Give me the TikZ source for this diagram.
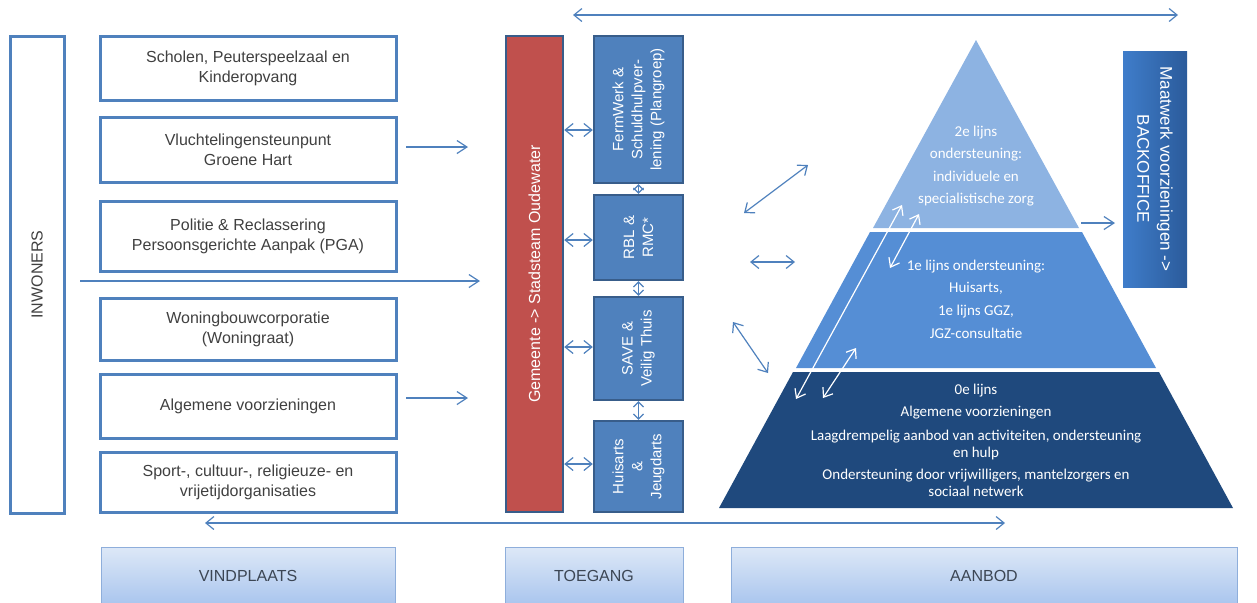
\documentclass[tikz,border=0pt]{standalone}
\usepackage{fontspec}
\setmainfont{Liberation Sans}
\newfontfamily\pyrfont{Carlito}
\usetikzlibrary{positioning,arrows.meta,calc}

\definecolor{ofblue}{HTML}{4F81BD}
\definecolor{ofdark}{HTML}{385D8A}
\definecolor{ofred}{HTML}{C0504D}
\definecolor{pyrtop}{HTML}{8DB3E2}
\definecolor{pyrmid}{HTML}{558ED5}
\definecolor{pyrbot}{HTML}{1F497D}
\definecolor{txtgray}{HTML}{404040}
\definecolor{hdrtop}{HTML}{DDE8F7}
\definecolor{hdrbot}{HTML}{A9C5EE}
\definecolor{hdrline}{HTML}{8EAEDB}
\definecolor{hdrtext}{HTML}{3C4654}
\definecolor{bofftop}{HTML}{3F7DCA}
\definecolor{boffbot}{HTML}{2B5B9B}

\begin{document}
\begin{tikzpicture}[
    x=0.5pt, y=-0.5pt,
    font=\fontsize{8}{10}\selectfont,
    vind/.style   ={draw=ofblue, line width=1.5pt, align=center, minimum width=148pt, inner sep=2pt, text=txtgray},
    inw/.style    ={draw=ofblue, line width=1.5pt, rotate=90, minimum width=238.5pt, minimum height=27pt, text=txtgray},
    gem/.style    ={draw=ofdark, line width=1.2pt, fill=ofred, rotate=90, minimum width=238pt, minimum height=28.5pt, text=white},
    stack/.style  ={draw=ofdark, line width=1.2pt, fill=ofblue, rotate=90, align=center, minimum height=44.5pt, inner sep=1pt, text=white, font=\fontsize{7.5}{9.5}\selectfont},
    boff/.style   ={draw=none, left color=bofftop, right color=boffbot, rotate=-90, align=center, minimum width=118pt, minimum height=32pt, text=white, font=\fontsize{8.5}{11.5}\selectfont},
    hdr/.style    ={draw=hdrline, line width=0.5pt, top color=hdrtop, bottom color=hdrbot, minimum height=29pt, text=hdrtext},
    pyrtext/.style={align=center, text=white, inner sep=0pt},
    arr/.style    ={-{Straight Barb[length=5pt,width=6.5pt]}, line width=0.6pt, ofblue},
    dbl/.style    ={{Straight Barb[length=4pt,width=6.5pt]}-{Straight Barb[length=4pt,width=6.5pt]}, line width=0.6pt, ofblue},
    tiny/.style   ={{Straight Barb[length=2.5pt,width=5pt]}-{Straight Barb[length=2.5pt,width=5pt]}, line width=0.6pt, ofblue},
    wdbl/.style   ={{Straight Barb[length=4pt,width=6pt]}-{Straight Barb[length=4pt,width=6pt]}, line width=0.6pt, white},
  ]
  \useasboundingbox (0,0) rectangle (1257,602);
  % vindplaats column
  \node[inw] (inwoners) at (37,274.5) {INWONERS};
  \node[vind, minimum height=32pt]   (scholen)  at (248,68)    {Scholen, Peuterspeelzaal en\\Kinderopvang};
  \node[vind, minimum height=32.5pt] (vlucht)   at (248,149.5) {Vluchtelingensteunpunt\\Groene Hart};
  \node[vind, minimum height=35pt]   (politie)  at (248,236)   {Politie \& Reclassering\\Persoonsgerichte Aanpak (PGA)};
  \node[vind, minimum height=31pt]   (woning)   at (248,329)   {Woningbouwcorporatie\\(Woningraat)};
  \node[vind, minimum height=32pt]   (algemeen) at (248,406)   {Algemene voorzieningen};
  \node[vind, minimum height=30pt]   (sport)    at (248,482)   {Sport-, cultuur-, religieuze- en\\vrijetijdorganisaties};
  % toegang column
  \node[gem] (gemeente) at (534.5,274) {Gemeente -> Stadsteam Oudewater};
  \node[stack, minimum width=73.5pt] (fermwerk) at (638.5,109.5) {FermWerk \&\\Schuldhulpver-\\lening (Plangroep)};
  \node[stack, minimum width=42.5pt] (rbl)      at (638.5,237.5) {RBL \&\\RMC*};
  \node[stack, minimum width=51.5pt] (save)     at (638.5,348.5) {SAVE \&\\Veilig Thuis};
  \node[stack, minimum width=45.5pt] (huisarts) at (638.5,466.5) {Huisarts\\\&\\Jeugdarts};
  % aanbod: pyramid in three layers
  \fill[pyrtop] (976,40) -- (1079,228) -- (873,228) -- cycle;
  \fill[pyrmid] (870,232) -- (1082,232) -- (1156,368) -- (796,368) -- cycle;
  \fill[pyrbot] (793,372) -- (1159,372) -- (1233,508) -- (719,508) -- cycle;
  \node[pyrtext, font=\pyrfont\fontsize{7.5}{11.3}\selectfont] (lijn2) at (976,166)
    {2e lijns\\ondersteuning:\\individuele en\\specialistische zorg};
  \node[pyrtext, font=\pyrfont\fontsize{7.5}{11.3}\selectfont] (lijn1) at (976,299)
    {1e lijns ondersteuning:\\Huisarts,\\1e lijns GGZ,\\JGZ-consultatie};
  \node[pyrtext, font=\pyrfont\fontsize{7.5}{8.5}\selectfont] (lijn0) at (976,440)
    {0e lijns\\[2.5pt]Algemene voorzieningen\\[3.5pt]Laagdrempelig aanbod van activiteiten, ondersteuning\\en hulp\\[2.5pt]Ondersteuning door vrijwilligers, mantelzorgers en\\sociaal netwerk};
  \node[boff] (backoffice) at (1155,169) {Maatwerk voorzieningen ->\\BACKOFFICE};
  % column headers
  \node[hdr, minimum width=147pt] (vindplaats) at (248,576) {VINDPLAATS};
  \node[hdr, minimum width=89pt]  (toegang)    at (594,576) {TOEGANG};
  \node[hdr, minimum width=253pt] (aanbod)     at (984,576) {AANBOD};
  % free ends of the connectors
  \coordinate (top-l) at (573,15);   \coordinate (top-r) at (1178,15);
  \coordinate (bot-l) at (205,523);  \coordinate (bot-r) at (1005,523);
  \coordinate (inw-a) at (80,281);   \coordinate (inw-b) at (480,281);
  \coordinate (vl-a)  at (406,147);  \coordinate (vl-b)  at (468,147);
  \coordinate (av-a)  at (406,398);  \coordinate (av-b)  at (468,398);
  \coordinate (b1-a)  at (744,213);  \coordinate (b1-b)  at (808,165);
  \coordinate (b2-a)  at (750,262);  \coordinate (b2-b)  at (795,262);
  \coordinate (b3-a)  at (733,322);  \coordinate (b3-b)  at (768,373);
  \coordinate (w1-a)  at (796,399);  \coordinate (w1-b)  at (902,205);
  \coordinate (w2-a)  at (890,268);  \coordinate (w2-b)  at (919,214);
  \coordinate (w3-a)  at (823,398);  \coordinate (w3-b)  at (856,348);
  \coordinate (bo-a)  at (1081,223); \coordinate (bo-b)  at (1115,223);
  % long arrows
  \draw[dbl] (top-l) -- (top-r);
  \draw[dbl] (bot-l) -- (bot-r);
  \draw[arr] (inw-a) -- (inw-b);
  \draw[arr] (vl-a) -- (vl-b);
  \draw[arr] (av-a) -- (av-b);
  % stadsteam to the four partners
  \draw[dbl] (gemeente.south |- 0,130) -- (fermwerk.north |- 0,130);
  \draw[dbl] (gemeente.south |- 0,240) -- (rbl.north |- 0,240);
  \draw[dbl] (gemeente.south |- 0,347) -- (save.north |- 0,347);
  \draw[dbl] (gemeente.south |- 0,464) -- (huisarts.north |- 0,464);
  \draw[tiny] (fermwerk.west) -- (rbl.east);
  \draw[tiny] (rbl.west) -- (save.east);
  \draw[tiny] (save.west) -- (huisarts.east);
  % toegang to the pyramid layers
  \draw[dbl] (b1-a) -- (b1-b);
  \draw[dbl] (b2-a) -- (b2-b);
  \draw[dbl] (b3-a) -- (b3-b);
  % between the layers
  \draw[wdbl] (w1-a) -- (w1-b);
  \draw[wdbl] (w2-a) -- (w2-b);
  \draw[wdbl] (w3-a) -- (w3-b);
  \draw[arr] (bo-a) -- (bo-b);
\end{tikzpicture}
\end{document}
